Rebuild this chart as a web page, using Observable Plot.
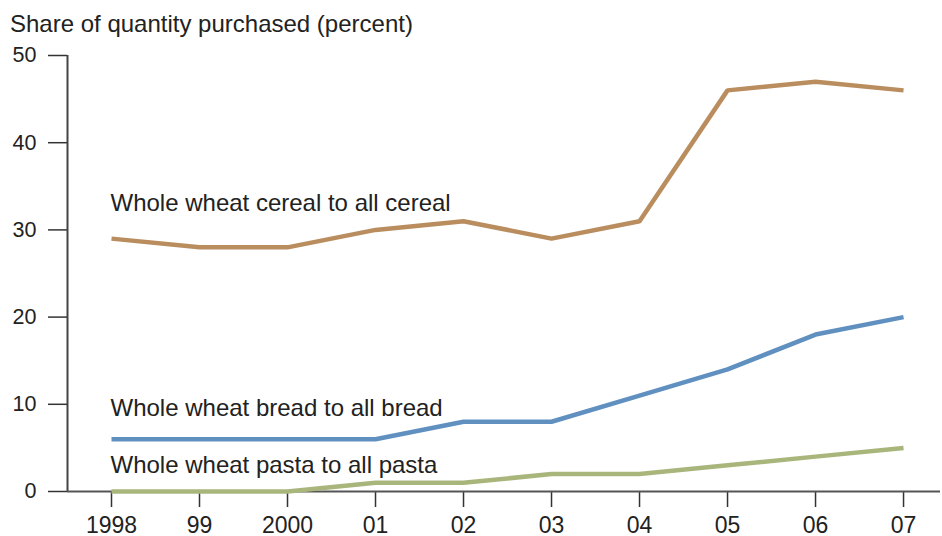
<!DOCTYPE html>
<html>
<head>
<meta charset="utf-8">
<script src="https://cdn.jsdelivr.net/npm/d3@7"></script>
<script src="https://cdn.jsdelivr.net/npm/@observablehq/plot@0.6"></script>
<style>
  body { margin: 0; background: #fff; font-family: "Liberation Sans", Arial, sans-serif; }
  #wrap { position: relative; width: 942px; height: 536px; }
  #title { position: absolute; left: 10px; top: 12px; font-size: 24px; line-height: 1; color: #222; white-space: nowrap; }
  #chart { position: absolute; left: 0; top: 0; }
</style>
</head>
<body>
<div id="wrap">
  <div id="chart"></div>
  <div id="title">Share of quantity purchased (percent)</div>
</div>
<script>
const years = [1998, 1999, 2000, 2001, 2002, 2003, 2004, 2005, 2006, 2007];
const yearLabels = ["1998", "99", "2000", "01", "02", "03", "04", "05", "06", "07"];
const cereal = [29, 28, 28, 30, 31, 29, 31, 46, 47, 46];
const bread = [6, 6, 6, 6, 8, 8, 11, 14, 18, 20];
const pasta = [0, 0, 0, 1, 1, 2, 2, 3, 4, 5];
const seriesNames = ["Whole wheat cereal to all cereal", "Whole wheat bread to all bread", "Whole wheat pasta to all pasta"];
const seriesColors = ["#b98d5e", "#6090c0", "#a8b67c"];
const labelY = [33, 9.5, 3];
const yTicks = [0, 10, 20, 30, 40, 50];

const seriesValues = [cereal, bread, pasta];
const data = [];
seriesNames.forEach((name, i) => {
  years.forEach((yr, j) => data.push({ series: name, year: yr, value: seriesValues[i][j] }));
});
const labels = seriesNames.map((name, i) => ({ series: name, year: years[0], value: labelY[i] }));

const chart = Plot.plot({
  width: 942,
  height: 536,
  marginTop: 55,
  marginBottom: 45,
  marginLeft: 67,
  marginRight: 2,
  style: { fontFamily: "Liberation Sans, Arial, sans-serif", fontSize: "20px", color: "#222", background: "transparent", overflow: "visible" },
  x: { domain: [1997.5, 2007.42], axis: null },
  y: { domain: [0, 50], axis: null },
  color: { domain: seriesNames, range: seriesColors },
  marks: [
    Plot.axisY(yTicks, { anchor: "left", tickSize: 19, tickPadding: 12, stroke: "#333", strokeWidth: 1.5, fontSize: 21.5, fill: "#222", label: null }),
    Plot.axisX(years, { anchor: "bottom", tickSize: 16, tickPadding: 9, stroke: "#333", strokeWidth: 1.5, fontSize: 23, fill: "#222", label: null,
      tickFormat: (d) => yearLabels[years.indexOf(d)] }),
    Plot.ruleX([1997.5], { y1: 0, y2: 50, stroke: "#444", strokeWidth: 2 }),
    Plot.ruleY([0], { stroke: "#555", strokeWidth: 2 }),
    Plot.line(data, { x: "year", y: "value", z: "series", stroke: "series", strokeWidth: 4.5, strokeLinejoin: "miter", strokeLinecap: "butt" }),
    Plot.text(labels, { x: "year", y: "value", text: "series", textAnchor: "start", dx: -1, fontSize: 24, fill: "#222" })
  ]
});
document.getElementById("chart").appendChild(chart);
</script>
</body>
</html>
